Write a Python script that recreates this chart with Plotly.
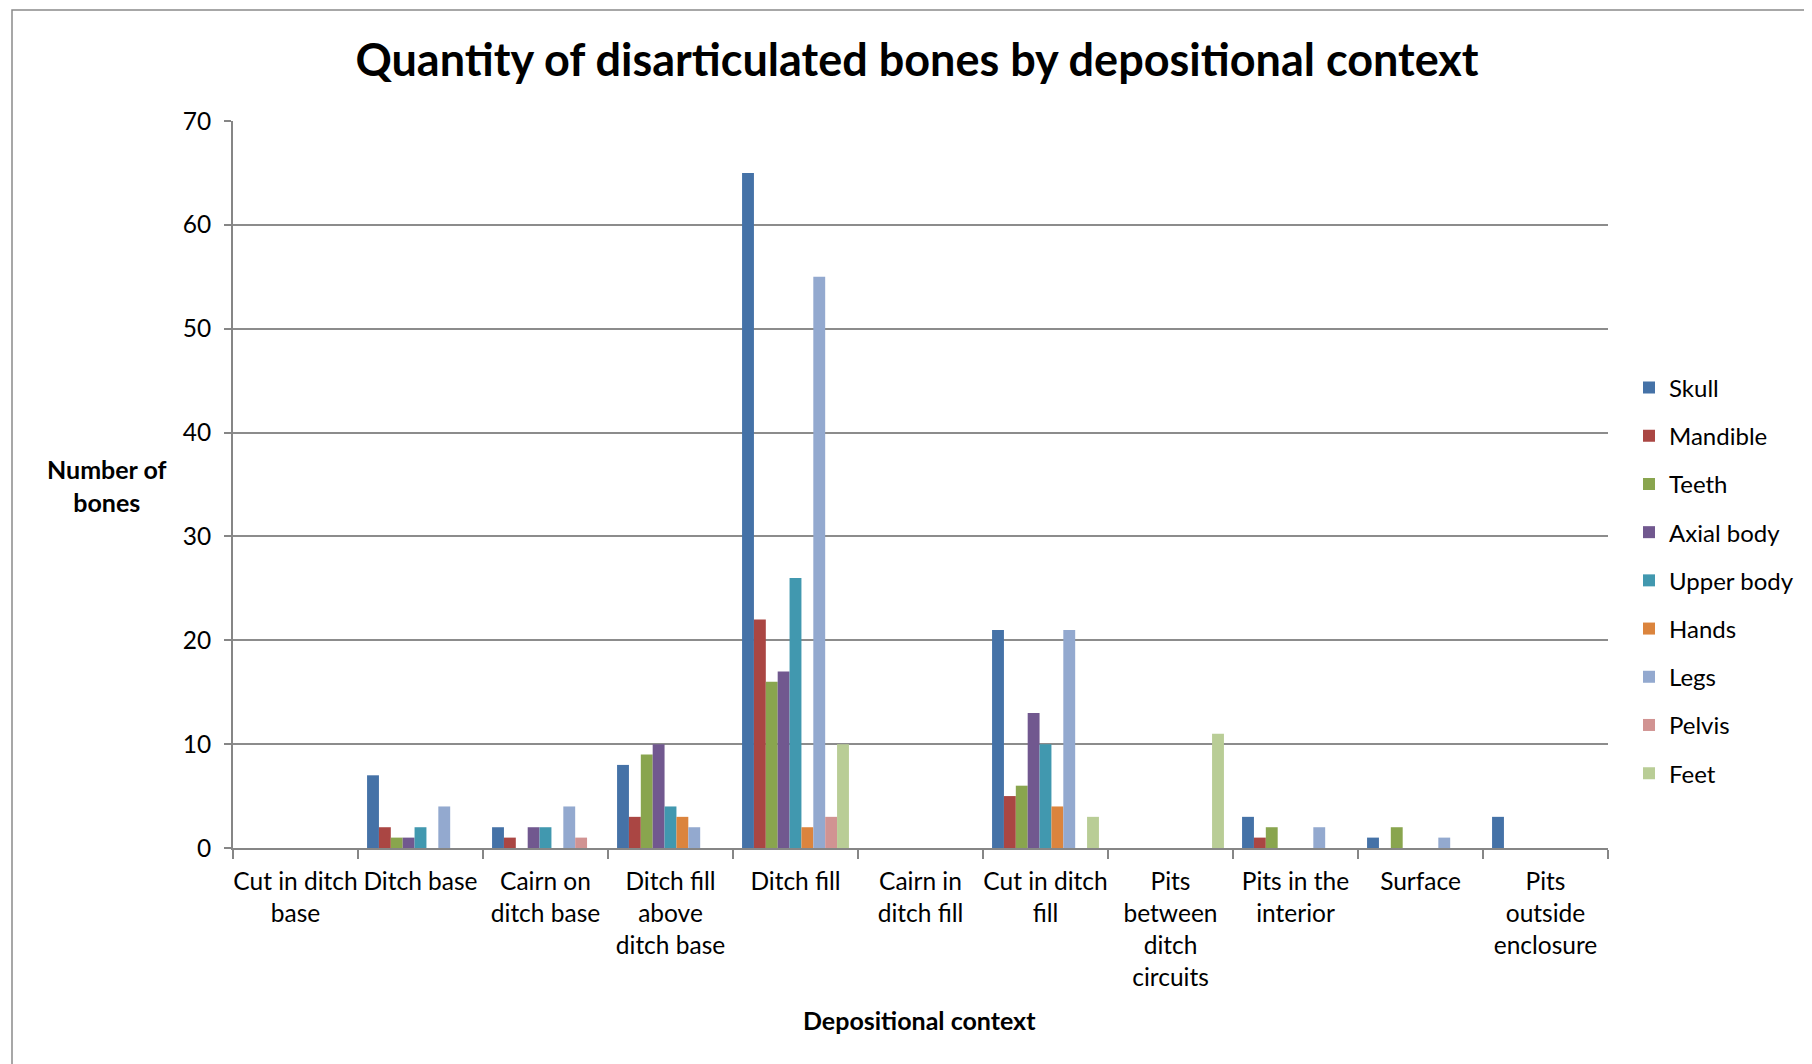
import plotly.graph_objects as go

categories = ["Cut in ditch<br>base", "Ditch base", "Cairn on<br>ditch base", "Ditch fill<br>above<br>ditch base",
              "Ditch fill", "Cairn in<br>ditch fill", "Cut in ditch<br>fill", "Pits<br>between<br>ditch<br>circuits",
              "Pits in the<br>interior", "Surface", "Pits<br>outside<br>enclosure"]

skull = [0, 7, 2, 8, 65, 0, 21, 0, 3, 1, 3]
mandible = [0, 2, 1, 3, 22, 0, 5, 0, 1, 0, 0]
teeth = [0, 1, 0, 9, 16, 0, 6, 0, 2, 2, 0]
axial_body = [0, 1, 2, 10, 17, 0, 13, 0, 0, 0, 0]
upper_body = [0, 2, 2, 4, 26, 0, 10, 0, 0, 0, 0]
hands = [0, 0, 0, 3, 2, 0, 4, 0, 0, 0, 0]
legs = [0, 4, 4, 2, 55, 0, 21, 0, 2, 1, 0]
pelvis = [0, 0, 1, 0, 3, 0, 0, 0, 0, 0, 0]
feet = [0, 0, 0, 0, 10, 0, 3, 11, 0, 0, 0]

series_names = ["Skull", "Mandible", "Teeth", "Axial body", "Upper body", "Hands", "Legs", "Pelvis", "Feet"]
series_values = [skull, mandible, teeth, axial_body, upper_body, hands, legs, pelvis, feet]
colors = ["#4572A7", "#AA4643", "#89A54E", "#71588F", "#4198AF", "#DB843D", "#93A9CF", "#D19392", "#B9CD96"]

FONT = "Lato"
W, H = 1804, 1056
L, R = 225, 1600
fig = go.Figure()
for name, vals, col in zip(series_names, series_values, colors):
    fig.add_trace(go.Bar(x=categories, y=vals, name=name, legendgroup=name,
                         marker=dict(color=col, line=dict(width=0))))

fig.update_layout(
    width=W, height=H,
    paper_bgcolor="white", plot_bgcolor="white",
    margin=dict(l=L, r=W - R, t=113, b=H - 840),
    barmode="group", bargap=0.145, bargroupgap=0,
    font=dict(family=FONT, color="black", size=24),
    title=dict(text="<b>Quantity of disarticulated bones by depositional context</b>",
               x=(917 - 8) / W, xanchor="center", y=1 - 52 / H, yanchor="middle",
               font=dict(family=FONT, size=45, color="black")),
    legend=dict(x=(1621 - L) / (R - L), xanchor="left", y=0.368, yanchor="middle",
                font=dict(family=FONT, size=24), tracegroupgap=14, itemwidth=30,
                bgcolor="rgba(0,0,0,0)", borderwidth=0),
    xaxis=dict(showline=True, linecolor="#868686", linewidth=2, ticks="outside", tickson="boundaries",
               ticklen=9, tickwidth=2, tickcolor="#868686", showgrid=False, ticklabelstandoff=11,
               tickangle=0, automargin=False,
               tickfont=dict(family=FONT, size=24.5, color="black")),
    yaxis=dict(range=[0, 70], dtick=10, showline=True, linecolor="#868686", linewidth=2,
               ticks="outside", ticklen=7, tickwidth=2, tickcolor="#868686", ticklabelstandoff=8,
               showgrid=True, gridcolor="#8c8c8c", gridwidth=2, zeroline=False, automargin=False,
               tickfont=dict(family=FONT, size=24.5, color="black")),
    annotations=[
        dict(text="<b>Number of<br>bones</b>", xref="paper", yref="paper", x=(99 - L) / (R - L), y=0.499,
             xanchor="center", yanchor="middle", showarrow=False, font=dict(family=FONT, size=25)),
        dict(text="<b>Depositional context</b>", xref="paper", yref="paper", x=(911 - L) / (R - L), y=-0.2366,
             xanchor="center", yanchor="middle", showarrow=False, font=dict(family=FONT, size=25)),
    ],
    shapes=[dict(type="rect", xref="paper", yref="paper", x0=(4 - L) / (R - L), x1=1.3, y0=-0.5, y1=1.1527,
                 line=dict(color="#8a8a8a", width=1.5), fillcolor="rgba(0,0,0,0)", layer="below")],
)

fig.write_html("out.html")
